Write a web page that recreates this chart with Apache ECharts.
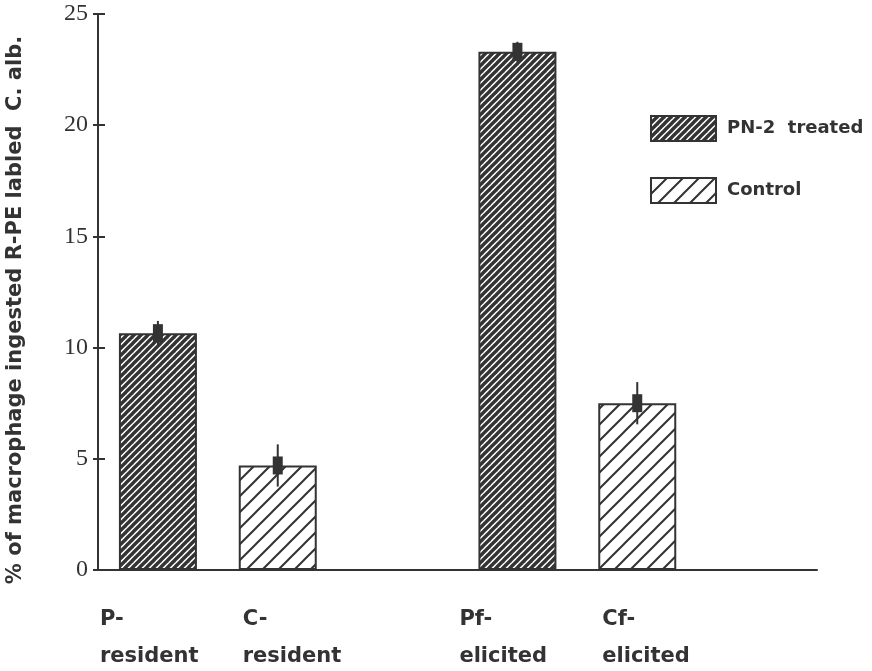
<!DOCTYPE html>
<html>
<head>
<meta charset="utf-8">
<script src="https://cdn.jsdelivr.net/npm/echarts@6/dist/echarts.min.js"></script>
<style>
  html, body { margin: 0; padding: 0; background: #fff; }
  #chart { width: 872px; height: 671px; }
</style>
</head>
<body>
<div id="chart"></div>
<script>
// Category slots along the x axis (empty slots leave the gap between groups)
const categories = ['P-\nresident', 'C-\nresident', '', 'Pf-\nelicited', 'Cf-\nelicited', ''];
const seriesNames = ['PN-2  treated', 'Control'];
const treatedValues = [10.65, null, null, 23.3, null, null];
const controlValues = [null, 4.7, null, null, 7.5, null];
const errorValues = [0.55, 0.95, null, 0.45, 0.95, null];
const yTicks = [0, 5, 10, 15, 20, 25];

const INK = '#333';
const SANS = 'DejaVu Sans, Verdana, sans-serif';

// Diagonal hatch tile: stripes running bottom-left to top-right
function hatch(size, lineWidth) {
  const c = document.createElement('canvas');
  c.width = size; c.height = size;
  const g = c.getContext('2d');
  g.fillStyle = '#fff';
  g.fillRect(0, 0, size, size);
  g.strokeStyle = INK;
  g.lineWidth = lineWidth;
  g.lineCap = 'square';
  for (let k = -1; k <= 1; k++) {
    g.beginPath();
    g.moveTo(k * size, size);
    g.lineTo(k * size + size, 0);
    g.stroke();
  }
  return { image: c, repeat: 'repeat' };
}
const densePattern = hatch(7, 3.4);
const sparsePattern = hatch(16, 2);

// Error markers: thin whisker plus a short thick block at the mean
const errorData = [];
errorValues.forEach((e, i) => {
  const v = treatedValues[i] != null ? treatedValues[i] : controlValues[i];
  if (v != null && e != null) errorData.push([i, v, e]);
});

const labelCommon = {
  show: true,
  position: 'bottom',
  distance: 31,
  align: 'left',
  color: INK,
  fontFamily: SANS,
  fontWeight: 'bold',
  fontSize: 21,
  lineHeight: 37,
  formatter: p => categories[p.dataIndex]
};

const chart = echarts.init(document.getElementById('chart'), null, { renderer: 'canvas' });
chart.setOption({
  animation: false,
  backgroundColor: '#fff',
  grid: { left: 98, right: 55, top: 14, bottom: 101, outerBoundsMode: 'none', containLabel: false },
  legend: {
    orient: 'vertical',
    left: 645,
    top: 110,
    itemWidth: 65,
    itemHeight: 25,
    itemGap: 35,
    icon: 'rect',
    data: seriesNames,
    textStyle: {
      color: INK,
      fontFamily: SANS,
      fontWeight: 'bold',
      fontSize: 18,
      padding: [12, 0, 0, 6]
    }
  },
  xAxis: {
    type: 'category',
    data: categories,
    axisLine: { lineStyle: { color: INK, width: 2 } },
    axisTick: { show: false },
    axisLabel: { show: false },
    splitLine: { show: false }
  },
  yAxis: [{
    type: 'value',
    min: 0,
    max: 25,
    interval: 5,
    name: '% of macrophage ingested R-PE labled  C. alb.',
    nameLocation: 'middle',
    nameRotate: 90,
    nameGap: 72,
    nameTextStyle: {
      color: INK,
      fontFamily: SANS,
      fontWeight: 'bold',
      fontSize: 21,
      padding: [0, 36, 0, 0]
    },
    axisLine: { show: true, lineStyle: { color: INK, width: 2 } },
    axisTick: { show: true, length: 5, lineStyle: { color: INK, width: 2 } },
    axisLabel: {
      margin: 10,
      color: INK,
      fontFamily: 'Liberation Serif, Times New Roman, serif',
      fontSize: 24,
      formatter: v => (yTicks.includes(v) ? String(v) : '')
    },
    splitLine: { show: false }
  }, {
    // tick stubs on the inner side of the same axis line
    type: 'value',
    position: 'left',
    min: 0,
    max: 25,
    interval: 5,
    axisLine: { show: false },
    axisTick: { show: true, inside: true, length: 7, lineStyle: { color: INK, width: 2 } },
    axisLabel: { show: false },
    splitLine: { show: false }
  }],
  series: [{
    name: seriesNames[0],
    type: 'bar',
    data: treatedValues,
    barWidth: 78,
    barGap: '-100%',
    itemStyle: { color: densePattern, borderColor: INK, borderWidth: 2 },
    label: Object.assign({}, labelCommon, { offset: [-58, 0] })
  }, {
    name: seriesNames[1],
    type: 'bar',
    data: controlValues,
    barWidth: 78,
    barGap: '-100%',
    itemStyle: { color: sparsePattern, borderColor: INK, borderWidth: 2 },
    label: Object.assign({}, labelCommon, { offset: [-35, 0] })
  }, {
    type: 'custom',
    data: errorData,
    z: 10,
    renderItem: (params, api) => {
      const i = api.value(0), v = api.value(1), e = api.value(2);
      const top = api.coord([i, v + e]);
      const bot = api.coord([i, v - e]);
      const mid = api.coord([i, v]);
      return {
        type: 'group',
        children: [{
          type: 'line',
          shape: { x1: top[0], y1: top[1], x2: bot[0], y2: bot[1] },
          style: { stroke: INK, lineWidth: 2 }
        }, {
          type: 'rect',
          shape: { x: mid[0] - 5, y: mid[1] - 9, width: 10, height: 18 },
          style: { fill: INK }
        }]
      };
    }
  }]
});
</script>
</body>
</html>
